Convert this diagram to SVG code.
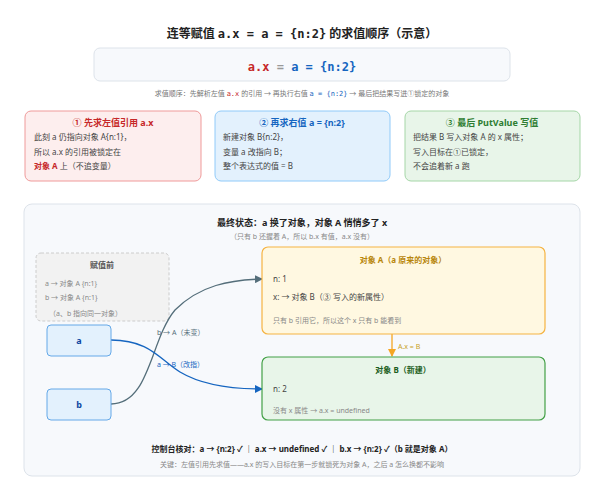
<svg xmlns="http://www.w3.org/2000/svg" width="604" height="500" viewBox="0 0 604 500">
<style>
text{font-family:"Noto Sans","Noto Sans CJK SC",sans-serif;}
.mono{font-family:"DejaVu Sans Mono","Liberation Mono",monospace;}
.t{font-size:8px;fill:#444;}
.g{font-size:7px;fill:#888;}
.h{font-size:9px;font-weight:bold;}
</style>
<defs>
<marker id="mg" markerWidth="8" markerHeight="8" refX="7" refY="4" orient="auto" markerUnits="userSpaceOnUse"><path d="M0,0L8,4L0,8z" fill="#546e7a"/></marker>
<marker id="mb" markerWidth="8" markerHeight="8" refX="7" refY="4" orient="auto" markerUnits="userSpaceOnUse"><path d="M0,0L8,4L0,8z" fill="#1565c0"/></marker>
<marker id="mo" markerWidth="8" markerHeight="8" refX="7" refY="4" orient="auto" markerUnits="userSpaceOnUse"><path d="M0,0L8,4L0,8z" fill="#f5a623"/></marker>
</defs>
<rect width="604" height="500" fill="#fff"/>
<text x="302" y="38" text-anchor="middle" font-size="12" font-weight="bold" fill="#222">连等赋值 <tspan class="mono">a.x = a = {n:2}</tspan> 的求值顺序（示意）</text>
<g id="formula">
<rect x="94" y="48" width="416" height="33" rx="6" fill="#f7f9fc" stroke="#dde3ea"/>
<text x="302" y="71" text-anchor="middle" class="mono" font-size="12" font-weight="bold"><tspan fill="#c62828">a.x</tspan><tspan fill="#999"> = </tspan><tspan fill="#1565c0">a = {n:2}</tspan></text>
</g>
<text x="302" y="96" text-anchor="middle" font-size="7" fill="#777">求值顺序：先解析左值 <tspan class="mono" fill="#c62828">a.x</tspan> 的引用 → 再执行右值 <tspan class="mono" fill="#1565c0">a = {n:2}</tspan> → 最后把结果写进①锁定的对象</text>
<g id="step1">
<rect x="25" y="111" width="176" height="70" rx="6" fill="#fdeeee" stroke="#ef9a9a"/>
<text x="113" y="126" text-anchor="middle" class="h" fill="#c62828">① 先求左值引用 a.x</text>
<text x="34" y="140" class="t">此刻 a 仍指向对象 A{n:1}，</text>
<text x="34" y="155" class="t">所以 a.x 的引用被锁定在</text>
<text x="34" y="169" class="t"><tspan fill="#c62828" font-weight="bold">对象 A</tspan> 上（不追变量）</text>
</g>
<g id="step2">
<rect x="215" y="111" width="175" height="70" rx="6" fill="#e3f1fd" stroke="#90caf9"/>
<text x="302" y="126" text-anchor="middle" class="h" fill="#1565c0">② 再求右值 a = {n:2}</text>
<text x="223" y="140" class="t">新建对象 B{n:2}，</text>
<text x="223" y="155" class="t">变量 a 改指向 B；</text>
<text x="223" y="169" class="t">整个表达式的值 = B</text>
</g>
<g id="step3">
<rect x="405" y="111" width="175" height="70" rx="6" fill="#e8f5e9" stroke="#a5d6a7"/>
<text x="492" y="126" text-anchor="middle" class="h" fill="#2e7d32">③ 最后 PutValue 写值</text>
<text x="413" y="140" class="t">把结果 B 写入对象 A 的 x 属性；</text>
<text x="413" y="155" class="t">写入目标在①已锁定，</text>
<text x="413" y="169" class="t">不会追着新 a 跑</text>
</g>
<g id="panel">
<rect x="24" y="204" width="556" height="272" rx="8" fill="#f7f9fc" stroke="#dde3ea"/>
<text x="302" y="226" text-anchor="middle" font-size="9" font-weight="bold" fill="#222">最终状态：a 换了对象，对象 A 悄悄多了 x</text>
<text x="302" y="239" text-anchor="middle" class="g">（只有 b 还握着 A，所以 b.x 有值，a.x 没有）</text>
</g>
<g id="before">
<rect x="36" y="253" width="133" height="68" rx="5" fill="#f2f2f2" stroke="#ccc" stroke-dasharray="3,2"/>
<text x="102" y="268" text-anchor="middle" font-size="8" font-weight="bold" fill="#555">赋值前</text>
<text x="45" y="286" class="g" fill="#666">a → 对象 A {n:1}</text>
<text x="45" y="300" class="g" fill="#666">b → 对象 A {n:1}</text>
<text x="49" y="316" class="g" fill="#999">（a、b 指向同一对象）</text>
</g>
<g id="connectors" fill="none">
<path d="M111,404 C150,404 150,340 175,310 C200,285 230,280 262,279" stroke="#546e7a" stroke-width="1.3" marker-end="url(#mg)"/>
<path d="M111,340 C150,340 160,360 180,372 C200,384 230,389 262,389" stroke="#1565c0" stroke-width="1.3" marker-end="url(#mb)"/>
<path d="M392,334 L392,356" stroke="#f5a623" stroke-width="1.3" marker-end="url(#mo)"/>
<text x="157" y="335" font-size="7" fill="#546e7a">b → A（未变）</text>
<text x="157" y="367" font-size="7" fill="#1565c0">a → B（改指）</text>
<text x="398" y="349" font-size="7" fill="#c9a227">A.x = B</text>
</g>
<g id="nodeA">
<rect x="47" y="325" width="64" height="31" rx="4" fill="#e3f1fd" stroke="#64a8e8"/>
<text x="79" y="344" text-anchor="middle" font-size="9" font-weight="bold" fill="#0d47a1">a</text>
</g>
<g id="nodeB">
<rect x="47" y="389" width="64" height="31" rx="4" fill="#e3f1fd" stroke="#64a8e8"/>
<text x="79" y="408" text-anchor="middle" font-size="9" font-weight="bold" fill="#0d47a1">b</text>
</g>
<g id="objA">
<rect x="262" y="247" width="283" height="87" rx="6" fill="#fff8e1" stroke="#f5b342" stroke-width="1.2"/>
<text x="403" y="263" text-anchor="middle" font-size="8" font-weight="bold" fill="#b8860b">对象 A（a 原来的对象）</text>
<text x="273" y="282" class="t">n: 1</text>
<text x="273" y="300" class="t">x: → 对象 B（③ 写入的新属性）</text>
<text x="273" y="323" class="g">只有 b 引用它，所以这个 x 只有 b 能看到</text>
</g>
<g id="objB">
<rect x="262" y="357" width="283" height="63" rx="6" fill="#e8f5e9" stroke="#43a047" stroke-width="1.2"/>
<text x="403" y="373" text-anchor="middle" font-size="8" font-weight="bold" fill="#1b5e20">对象 B（新建）</text>
<text x="273" y="392" class="t">n: 2</text>
<text x="273" y="413" class="g">没有 x 属性 → a.x = undefined</text>
</g>
<text x="302" y="452" text-anchor="middle" font-size="8" font-weight="bold" fill="#222">控制台核对：a → {n:2} ✓ ｜ a.x → undefined ✓ ｜ b.x → {n:2} ✓（b 就是对象 A）</text>
<text x="302" y="467" text-anchor="middle" class="g">关键：左值引用先求值——a.x 的写入目标在第一步就锁死为对象 A，之后 a 怎么换都不影响</text>
</svg>
